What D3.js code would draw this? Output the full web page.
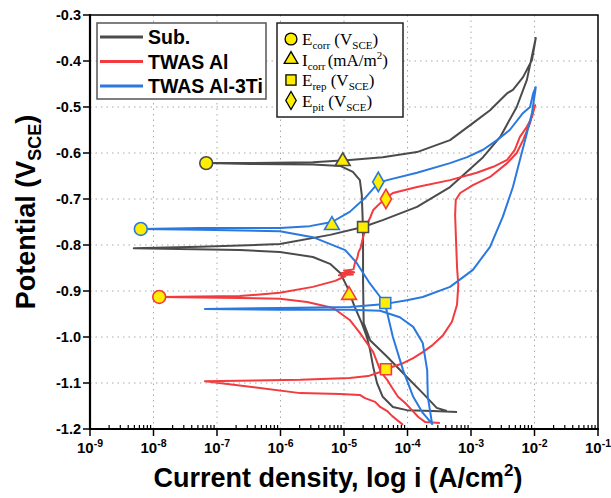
<!DOCTYPE html>
<html><head><meta charset="utf-8">
<script src="https://cdn.jsdelivr.net/npm/d3@7/dist/d3.min.js"></script>
<style>body{margin:0;background:#fff}svg{display:block}</style>
</head><body>
<svg id="chart" width="611" height="498"></svg>
<script>
// ---------- DATA (log10 i [A/cm2], potential [V_SCE]) ----------
const xTickExps = [-9, -8, -7, -6, -5, -4, -3, -2, -1];
const yTicks = [-0.3, -0.4, -0.5, -0.6, -0.7, -0.8, -0.9, -1.0, -1.1, -1.2];
const seriesNames = ["Sub.", "TWAS Al", "TWAS Al-3Ti"];
const seriesColors = ["#4b4b4b", "#f23b3f", "#2a79df"];

const subCurve = [
  [-3.22,-1.163],[-3.60,-1.161],[-4.01,-1.159],[-4.23,-1.152],[-4.39,-1.130],[-4.48,-1.100],
  [-4.54,-1.065],[-4.59,-1.028],[-4.64,-1.000],[-4.72,-0.970],[-4.83,-0.935],[-4.95,-0.891],
  [-5.06,-0.861],[-5.22,-0.841],[-5.49,-0.826],[-6.01,-0.815],[-6.64,-0.811],[-8.31,-0.807],
  [-7.27,-0.804],[-6.01,-0.798],[-5.22,-0.778],[-4.70,-0.761],[-4.39,-0.746],[-3.85,-0.717],
  [-3.33,-0.674],[-2.81,-0.609],[-2.54,-0.565],[-2.28,-0.500],[-2.12,-0.441],[-1.98,-0.350],
  [-2.04,-0.398],[-2.18,-0.435],[-2.34,-0.463],[-2.43,-0.470],[-2.70,-0.507],[-2.97,-0.535],
  [-3.33,-0.572],[-3.85,-0.598],[-4.39,-0.609],[-4.91,-0.615],[-5.49,-0.620],[-6.48,-0.622],
  [-7.17,-0.622],[-6.48,-0.624],[-5.49,-0.625],[-5.06,-0.628],[-4.86,-0.641],[-4.75,-0.659],
  [-4.72,-0.691],[-4.70,-0.767],[-4.70,-0.876],[-4.69,-0.970],[-4.59,-1.007],[-4.32,-1.043],
  [-4.01,-1.087],[-3.76,-1.122],[-3.54,-1.154],[-3.38,-1.161]
];
const alCurve = [
  [-3.49,-1.187],[-3.72,-1.185],[-3.83,-1.174],[-3.93,-1.159],[-4.04,-1.143],[-4.15,-1.130],
  [-4.24,-1.111],[-4.32,-1.093],[-4.42,-1.076],[-4.48,-1.054],[-4.54,-1.033],[-4.64,-1.013],
  [-4.75,-0.991],[-4.91,-0.963],[-5.17,-0.937],[-5.58,-0.924],[-6.01,-0.917],[-6.64,-0.915],
  [-7.91,-0.913],[-6.64,-0.911],[-6.01,-0.904],[-5.49,-0.891],[-5.14,-0.878],[-4.98,-0.868],
  [-5.08,-0.866],[-4.86,-0.864],[-5.04,-0.861],[-4.84,-0.859],[-5.00,-0.856],[-4.85,-0.853],
  [-4.83,-0.840],[-4.79,-0.828],[-4.77,-0.815],[-4.74,-0.807],[-4.72,-0.795],[-4.70,-0.783],
  [-4.66,-0.765],[-4.62,-0.750],[-4.58,-0.738],[-4.54,-0.724],
  [-4.43,-0.709],[-4.34,-0.698],[-4.23,-0.687],[-3.85,-0.674],[-3.33,-0.659],[-2.91,-0.643],
  [-2.65,-0.630],[-2.43,-0.615],[-2.31,-0.593],[-2.23,-0.565],[-2.12,-0.543],[-2.04,-0.522],
  [-1.99,-0.496],
  [-2.07,-0.535],[-2.18,-0.572],[-2.28,-0.600],[-2.43,-0.622],[-2.70,-0.652],[-2.97,-0.670],
  [-3.17,-0.687],[-3.24,-0.702],[-3.25,-0.735],[-3.24,-0.774],[-3.22,-0.848],[-3.20,-0.887],
  [-3.22,-0.930],[-3.30,-0.967],[-3.44,-0.996],[-3.60,-1.017],[-3.76,-1.033],[-3.91,-1.046],
  [-4.07,-1.057],[-4.28,-1.067],[-4.43,-1.076],[-4.62,-1.085],[-4.91,-1.089],[-5.69,-1.093],
  [-7.19,-1.096],[-5.69,-1.122],[-5.06,-1.124],[-4.75,-1.126],[-4.67,-1.133],[-4.51,-1.141],
  [-4.43,-1.152],[-4.32,-1.161],[-4.24,-1.172],[-4.17,-1.180],[-4.07,-1.191]
];
const tiCurve = [
  [-3.61,-1.189],[-3.76,-1.165],[-3.91,-1.130],[-4.07,-1.072],[-4.23,-1.000],[-4.35,-0.930],
  [-4.43,-0.913],[-4.61,-0.880],[-4.80,-0.839],[-4.98,-0.811],[-5.49,-0.783],[-6.01,-0.770],
  [-7.27,-0.767],[-8.20,-0.765],[-7.27,-0.763],[-6.01,-0.763],[-5.54,-0.759],[-5.19,-0.750],
  [-4.91,-0.728],[-4.67,-0.698],[-4.46,-0.665],[-4.32,-0.659],[-3.85,-0.643],[-3.33,-0.622],
  [-3.06,-0.609],[-2.81,-0.593],[-2.59,-0.572],[-2.39,-0.550],[-2.18,-0.513],[-2.07,-0.500],
  [-2.02,-0.470],[-1.98,-0.457],
  [-1.99,-0.467],[-2.04,-0.513],[-2.12,-0.557],[-2.23,-0.615],[-2.34,-0.674],[-2.50,-0.739],
  [-2.70,-0.804],[-2.97,-0.854],[-3.33,-0.891],[-3.76,-0.913],[-4.01,-0.920],[-4.35,-0.928],
  [-4.91,-0.935],[-6.01,-0.937],[-7.19,-0.939],[-6.01,-0.941],[-4.91,-0.941],[-4.43,-0.943],
  [-4.12,-0.957],[-3.91,-0.978],[-3.76,-1.013],[-3.69,-1.072],[-3.68,-1.130],[-3.61,-1.191]
];
const curves = [subCurve, alCurve, tiCurve];

// characteristic points: [series index, symbol, log i, E]
const markerPoints = [
  [0, "circle", -7.17, -0.622], [0, "triangle", -5.02, -0.618], [0, "square", -4.70, -0.761],
  [1, "circle", -7.91, -0.913], [1, "triangle", -4.92, -0.909], [1, "square", -4.34, -1.070], [1, "diamond", -4.34, -0.700],
  [2, "circle", -8.20, -0.765], [2, "triangle", -5.19, -0.757], [2, "square", -4.35, -0.926], [2, "diamond", -4.46, -0.663]
];
const markerLegend = [
  ["circle", "E", "corr", " (V", "SCE", ")", ""],
  ["triangle", "I", "corr", " (mA/m", "", ")", "2"],
  ["square", "E", "rep", " (V", "SCE", ")", ""],
  ["diamond", "E", "pit", " (V", "SCE", ")", ""]
];

// ---------- CHART ----------
const svg = d3.select("#chart");
const L = 90, R = 598, T = 15, B = 429;
const x = d3.scaleLog().domain([1e-9, 1e-1]).range([L, R]);
const y = d3.scaleLinear().domain([-1.2, -0.3]).range([B, T]);
const lx = d => x(Math.pow(10, d));
const SANS = "Liberation Sans, Arial, sans-serif";

// grid
const grid = svg.append("g").attr("stroke", "#a8a8a8").attr("stroke-width", 1).attr("stroke-dasharray", "1.5,4");
xTickExps.slice(1, -1).forEach(e => grid.append("line").attr("x1", lx(e)).attr("x2", lx(e)).attr("y1", T).attr("y2", B));
yTicks.slice(1, -1).forEach(v => grid.append("line").attr("x1", L).attr("x2", R).attr("y1", y(v)).attr("y2", y(v)));

// curves
const line = d3.line().x(d => lx(d[0])).y(d => y(d[1]));
curves.forEach((c, i) => {
  svg.append("path").datum(c).attr("d", line).attr("fill", "none")
    .attr("stroke", seriesColors[i]).attr("stroke-width", 2).attr("stroke-linejoin", "round");
});

// symbols
const symType = {circle: d3.symbolCircle, triangle: d3.symbolTriangle, square: d3.symbolSquare, diamond: d3.symbolDiamond};
const symSize = {circle: 130, triangle: 95, square: 120, diamond: 110};
markerPoints.forEach(m => {
  svg.append("path").attr("d", d3.symbol().type(symType[m[1]]).size(symSize[m[1]])())
    .attr("transform", `translate(${lx(m[2])},${y(m[3])})`)
    .attr("fill", "#ffee00").attr("stroke", seriesColors[m[0]]).attr("stroke-width", 1.6);
});

// frame
svg.append("rect").attr("x", L).attr("y", T).attr("width", R - L).attr("height", B - T)
  .attr("fill", "none").attr("stroke", "#000").attr("stroke-width", 1.5);
svg.append("line").attr("x1", L).attr("x2", L).attr("y1", T - 1).attr("y2", B + 1).attr("stroke", "#000").attr("stroke-width", 2.2);
svg.append("line").attr("x1", L - 1).attr("x2", R + 1).attr("y1", B).attr("y2", B).attr("stroke", "#000").attr("stroke-width", 2.2);

// y ticks
const yAx = svg.append("g");
yTicks.forEach(v => {
  yAx.append("line").attr("x1", L - 7).attr("x2", L).attr("y1", y(v)).attr("y2", y(v)).attr("stroke", "#000").attr("stroke-width", 1.5);
  yAx.append("text").attr("x", L - 9).attr("y", y(v) + 5).attr("text-anchor", "end")
    .attr("font-family", SANS).attr("font-weight", "bold").attr("font-size", 14.5)
    .text(v.toFixed(1));
});

// x ticks
const xAx = svg.append("g");
xTickExps.forEach(e => {
  xAx.append("line").attr("x1", lx(e)).attr("x2", lx(e)).attr("y1", B).attr("y2", B + 7).attr("stroke", "#000").attr("stroke-width", 1.5);
  if (e < -1) {
    for (let k = 2; k <= 9; k++) {
      const xv = x(k * Math.pow(10, e));
      xAx.append("line").attr("x1", xv).attr("x2", xv).attr("y1", B).attr("y2", B - 4).attr("stroke", "#000").attr("stroke-width", 1.2);
    }
  }
  const t = xAx.append("text").attr("x", lx(e)).attr("y", B + 24).attr("text-anchor", "middle")
    .attr("font-family", SANS).attr("font-weight", "bold").attr("font-size", 15);
  t.append("tspan").text("10");
  t.append("tspan").attr("dy", -6).attr("font-size", 10.5).text(String(e));
});

// axis titles
const xt = svg.append("text").attr("x", 338).attr("y", 487).attr("text-anchor", "middle")
  .attr("font-family", SANS).attr("font-weight", "bold").attr("font-size", 27);
xt.append("tspan").text("Current density, log i (A/cm");
xt.append("tspan").attr("dy", -11).attr("font-size", 17).text("2");
xt.append("tspan").attr("dy", 11).text(")");

const yt = svg.append("text").attr("transform", "translate(35,212) rotate(-90)").attr("text-anchor", "middle")
  .attr("font-family", SANS).attr("font-weight", "bold").attr("font-size", 27);
yt.append("tspan").text("Potential  (V");
yt.append("tspan").attr("dy", 6).attr("font-size", 18).text("SCE");
yt.append("tspan").attr("dy", -6).text(")");

// legend 1 (series)
const lg1 = svg.append("g");
lg1.append("rect").attr("x", 97).attr("y", 23).attr("width", 169).attr("height", 76)
  .attr("fill", "#fff").attr("stroke", "#555").attr("stroke-width", 1.5);
seriesNames.forEach((n, i) => {
  const yy = 37 + i * 24.5;
  lg1.append("line").attr("x1", 100).attr("x2", 143).attr("y1", yy).attr("y2", yy).attr("stroke", seriesColors[i]).attr("stroke-width", 3);
  lg1.append("text").attr("x", 148).attr("y", yy + 7).attr("font-family", SANS)
    .attr("font-weight", "bold").attr("font-size", 19.5).attr("textLength", null).text(n);
});

// legend 2 (symbols)
const lg2 = svg.append("g");
lg2.append("rect").attr("x", 277).attr("y", 23).attr("width", 126).attr("height", 94)
  .attr("fill", "#fff").attr("stroke", "#222").attr("stroke-width", 1.5);
markerLegend.forEach((m, i) => {
  const yy = 39 + i * 20.5;
  lg2.append("path").attr("d", d3.symbol().type(symType[m[0]]).size(symSize[m[0]] * 0.85)())
    .attr("transform", `translate(291,${yy})`).attr("fill", "#ffee00").attr("stroke", "#000").attr("stroke-width", 1.3);
  const t = lg2.append("text").attr("x", 302).attr("y", yy + 6).attr("font-family", "Liberation Serif, Times New Roman, serif").attr("font-size", 17);
  t.append("tspan").text(m[1]);
  t.append("tspan").attr("dy", 4).attr("font-size", 11).text(m[2]);
  if (m[4]) {
    t.append("tspan").attr("dy", -4).text(m[3]);
    t.append("tspan").attr("dy", 4).attr("font-size", 11).text(m[4]);
    t.append("tspan").attr("dy", -4).text(m[5]);
  } else {
    t.append("tspan").attr("dy", -4).attr("dx", -2).text(m[3]);
    t.append("tspan").attr("dy", -7).attr("font-size", 11).text(m[6]);
    t.append("tspan").attr("dy", 7).text(m[5]);
  }
});
</script>
</body></html>
